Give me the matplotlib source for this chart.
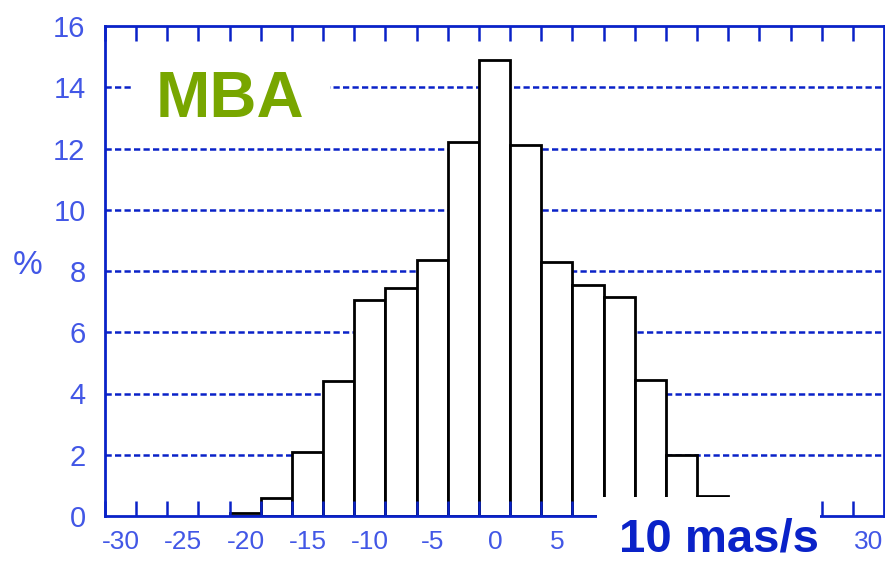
import numpy as np
import matplotlib.pyplot as plt
from matplotlib.patches import Rectangle
from matplotlib.transforms import ScaledTranslation

plt.rcParams['font.family'] = ['Liberation Sans']
plt.rcParams['axes.unicode_minus'] = False

# histogram data (percent per 2.5 mas/s bin, left edges)
bin_left = np.arange(-20, 20, 2.5)
percent = [0.1, 0.6, 2.1, 4.4, 7.05, 7.45, 8.35, 12.2,
           14.9, 12.1, 8.3, 7.55, 7.15, 4.45, 2.0, 0.65]
xticks = np.arange(-30, 31, 5)
# labels 10..25 are hidden under the "10 mas/s" box in the original
xtick_labels = ['-30', '-25', '-20', '-15', '-10', '-5', '0', '5',
                '', '', '', '', '30']
xminor = np.arange(-27.5, 31, 5)
yticks = np.arange(0, 17, 2)

BLUE = "#0a22c8"
LABEL_BLUE = "#4257e6"
GREEN = "#78a600"
W, H = 885, 562

fig = plt.figure(figsize=(W / 100, H / 100), dpi=100)
ax = fig.add_axes([105 / W, 1 - 516 / H, 779 / W, 490 / H])

for y in yticks[1:-1]:
    ax.axhline(y, color=BLUE, linewidth=1.8, linestyle=(0, (2.5, 1.3)), zorder=0.5)

ax.bar(bin_left, percent, width=2.5, align="edge", facecolor="white",
       edgecolor="black", linewidth=2.0, zorder=1)

ax.set_xlim(-30, 32.5)
ax.set_ylim(0, 16)
ax.set_xticks(xticks, xtick_labels)
ax.set_xticks(xminor, minor=True)
ax.set_yticks(yticks)
ax.set_axisbelow(False)

for s in ax.spines.values():
    s.set_color(BLUE)
    s.set_linewidth(2.0)

ax.tick_params(axis='x', which='both', direction='in', length=11, width=1.8,
               color=BLUE, top=True, bottom=True, labelsize=19,
               labelcolor=LABEL_BLUE, pad=10)
ax.tick_params(axis='y', which='both', length=0, labelsize=21,
               labelcolor=LABEL_BLUE, pad=14)

# labels sit a little right of their ticks in the original
shift = ScaledTranslation(0.16, 0, fig.dpi_scale_trans)
for t in ax.xaxis.get_major_ticks():
    t.label1.set_transform(t.label1.get_transform() + shift)

fig.text(28 / W, 1 - 266 / H, '%', ha='center', va='center', fontsize=24,
         color=LABEL_BLUE)

# white boxes behind the annotations
fig.add_artist(Rectangle((133 / W, 1 - 130 / H), (330 - 133) / W, 85 / H,
                         transform=fig.transFigure, facecolor='white',
                         edgecolor='none', zorder=2))
fig.text(156 / W, 1 - 117 / H, 'MBA', ha='left', va='baseline', fontsize=47,
         fontweight='bold', color=GREEN, zorder=3)

fig.add_artist(Rectangle((597 / W, 0), (820 - 597) / W, (H - 497) / H,
                         transform=fig.transFigure, facecolor='white',
                         edgecolor='none', zorder=2))
fig.text(619 / W, 1 - 551 / H, '10 mas/s', ha='left', va='baseline', fontsize=34,
         fontweight='bold', color=BLUE, zorder=3)

fig.savefig("out.png", dpi=100)
